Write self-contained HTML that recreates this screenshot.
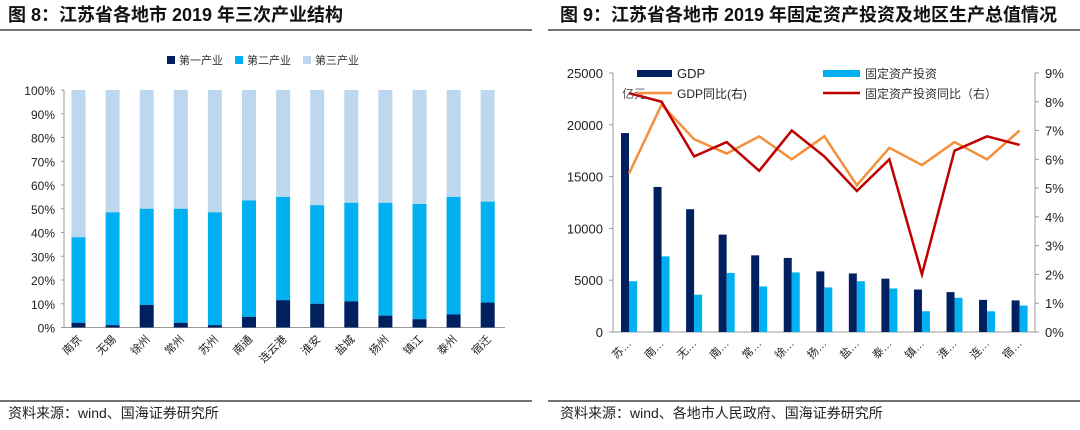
<!DOCTYPE html>
<html><head><meta charset="utf-8"><style>
body{margin:0;background:#fff;width:1080px;height:425px;overflow:hidden;font-family:"Liberation Sans","Noto Sans CJK SC",sans-serif}
svg text{font-family:"Liberation Sans","Noto Sans CJK SC",sans-serif}
</style></head><body>
<svg width="1080" height="425">
<text x="8" y="21" font-size="18" font-weight="bold" fill="#111">图 8：江苏省各地市 2019 年三次产业结构</text>
<text x="560" y="21" font-size="18" font-weight="bold" fill="#111">图 9：江苏省各地市 2019 年固定资产投资及地区生产总值情况</text>
<line x1="0" y1="30" x2="532" y2="30" stroke="#444" stroke-width="1.5"/>
<line x1="548" y1="30" x2="1080" y2="30" stroke="#444" stroke-width="1.5"/>
<line x1="0" y1="401" x2="532" y2="401" stroke="#444" stroke-width="1.5"/>
<line x1="548" y1="401" x2="1080" y2="401" stroke="#444" stroke-width="1.5"/>
<text x="8" y="418" font-size="14" fill="#222">资料来源：wind、国海证券研究所</text>
<text x="560" y="418" font-size="14" fill="#222">资料来源：wind、各地市人民政府、国海证券研究所</text>
<g id="left"></g>
<g id="right"></g>
</svg>
<script>
const cities=["南京","无锡","徐州","常州","苏州","南通","连云港","淮安","盐城","扬州","镇江","泰州","宿迁"];
const primary=[2,1,9.5,2,1,4.5,11.5,10,11,5,3.5,5.5,10.5];
const secondary=[36,47.5,40.5,48,47.5,49,43.5,41.5,41.5,47.5,48.5,49.5,42.5];
const pctTicks=[0,10,20,30,40,50,60,70,80,90,100];
const rCities=["苏…","南…","无…","南…","常…","徐…","扬…","盐…","泰…","镇…","淮…","连…","宿…"];
const gdp=[19200,14000,11850,9400,7400,7150,5850,5650,5150,4100,3850,3100,3050];
const inv=[4900,7300,3600,5700,4400,5750,4300,4900,4200,2000,3300,2000,2550];
const gdpG=[5.5,7.9,6.7,6.2,6.8,6.0,6.8,5.1,6.4,5.8,6.6,6.0,7.0];
const invG=[8.3,8.0,6.1,6.6,5.6,7.0,6.1,4.9,6.0,2.0,6.3,6.8,6.5];
const leftTicks=[0,5000,10000,15000,20000,25000];
const rightTicks=[0,1,2,3,4,5,6,7,8,9];
const NS="http://www.w3.org/2000/svg";
function mk(p,t,a,txt){const e=document.createElementNS(NS,t);for(const k in a)e.setAttribute(k,a[k]);if(txt!=null)e.textContent=txt;p.appendChild(e);return e;}
const L=document.getElementById('left');
const ly=v=>327.5-v*2.375, lx=i=>78.5+i*34.1;
mk(L,'line',{x1:64,y1:90,x2:64,y2:327.5,stroke:'#999'});
mk(L,'line',{x1:64,y1:327.5,x2:505,y2:327.5,stroke:'#999'});
pctTicks.forEach(t=>{const e=mk(L,'text',{x:55,y:ly(t)+5,'font-size':12,'text-anchor':'end',fill:'#222'},t+'%');
mk(L,'line',{x1:61,y1:ly(t),x2:64,y2:ly(t),stroke:'#999'});});
cities.forEach((c,i)=>{const x=lx(i)-7;const s=primary[i]+secondary[i];
let r=mk(L,'rect',{x:x,y:ly(100),width:14,height:ly(s)-ly(100),fill:'#bdd7ee'});
r=mk(L,'rect',{x:x,y:ly(s),width:14,height:ly(primary[i])-ly(s),fill:'#00b0f0'});
r=mk(L,'rect',{x:x,y:ly(primary[i]),width:14,height:ly(0)-ly(primary[i]),fill:'#002060'});
const t=mk(L,'text',{x:lx(i)+4,y:340,'font-size':11,'text-anchor':'end',fill:'#222',transform:`rotate(-45 ${lx(i)+4} 340)`},c);});
[['第一产业','#002060',167],['第二产业','#00b0f0',235],['第三产业','#bdd7ee',303]].forEach(([n,c,x])=>{mk(L,'rect',{x:x,y:56,width:8,height:8,fill:c});const t=mk(L,'text',{x:x+12,y:64,'font-size':11,fill:'#333'},n);});
const R=document.getElementById('right');
const gy=v=>332-v*0.01036, py=v=>332-v*28.78, rx=i=>629+i*32.55;
mk(R,'line',{x1:613,y1:73,x2:613,y2:332,stroke:'#999'});
mk(R,'line',{x1:613,y1:332,x2:1035,y2:332,stroke:'#999'});
mk(R,'line',{x1:1035,y1:73,x2:1035,y2:332,stroke:'#999'});
leftTicks.forEach(t=>{const e=mk(R,'text',{x:603,y:gy(t)+5,'font-size':13,'text-anchor':'end',fill:'#222'},t);mk(R,'line',{x1:609,y1:gy(t),x2:613,y2:gy(t),stroke:'#999'});});
rightTicks.forEach(t=>{const e=mk(R,'text',{x:1045,y:py(t)+5,'font-size':13,fill:'#222'},t+'%');mk(R,'line',{x1:1035,y1:py(t),x2:1039,y2:py(t),stroke:'#999'});});
rCities.forEach((c,i)=>{let r=mk(R,'rect',{x:rx(i)-8,y:gy(gdp[i]),width:8,height:332-gy(gdp[i]),fill:'#002060'});
r=mk(R,'rect',{x:rx(i),y:gy(inv[i]),width:8,height:332-gy(inv[i]),fill:'#00b0f0'});
const t=mk(R,'text',{x:rx(i)+3,y:344,'font-size':11,'text-anchor':'end',fill:'#222',transform:`rotate(-45 ${rx(i)+3} 344)`},c);});
let p=mk(R,'polyline',{points:gdpG.map((v,i)=>rx(i)+','+py(v)).join(' '),fill:'none',stroke:'#f4903c','stroke-width':2.5});
p=mk(R,'polyline',{points:invG.map((v,i)=>rx(i)+','+py(v)).join(' '),fill:'none',stroke:'#c00000','stroke-width':2.5});
mk(R,'text',{x:622,y:98,'font-size':12,fill:'#555'},'亿元');
mk(R,'rect',{x:637,y:70,width:35,height:7,fill:'#002060'});
mk(R,'text',{x:677,y:78,'font-size':13,fill:'#222'},'GDP');
mk(R,'rect',{x:823,y:70,width:37,height:7,fill:'#00b0f0'});
mk(R,'text',{x:865,y:78,'font-size':12,fill:'#333'},'固定资产投资');
mk(R,'line',{x1:637,y1:93,x2:672,y2:93,stroke:'#f4903c','stroke-width':2.5});
mk(R,'text',{x:677,y:98,'font-size':12,fill:'#222'},'GDP同比(右)');
mk(R,'line',{x1:823,y1:93,x2:860,y2:93,stroke:'#c00000','stroke-width':2.5});
mk(R,'text',{x:865,y:98,'font-size':12,fill:'#333'},'固定资产投资同比（右）');
</script>
</body></html>
